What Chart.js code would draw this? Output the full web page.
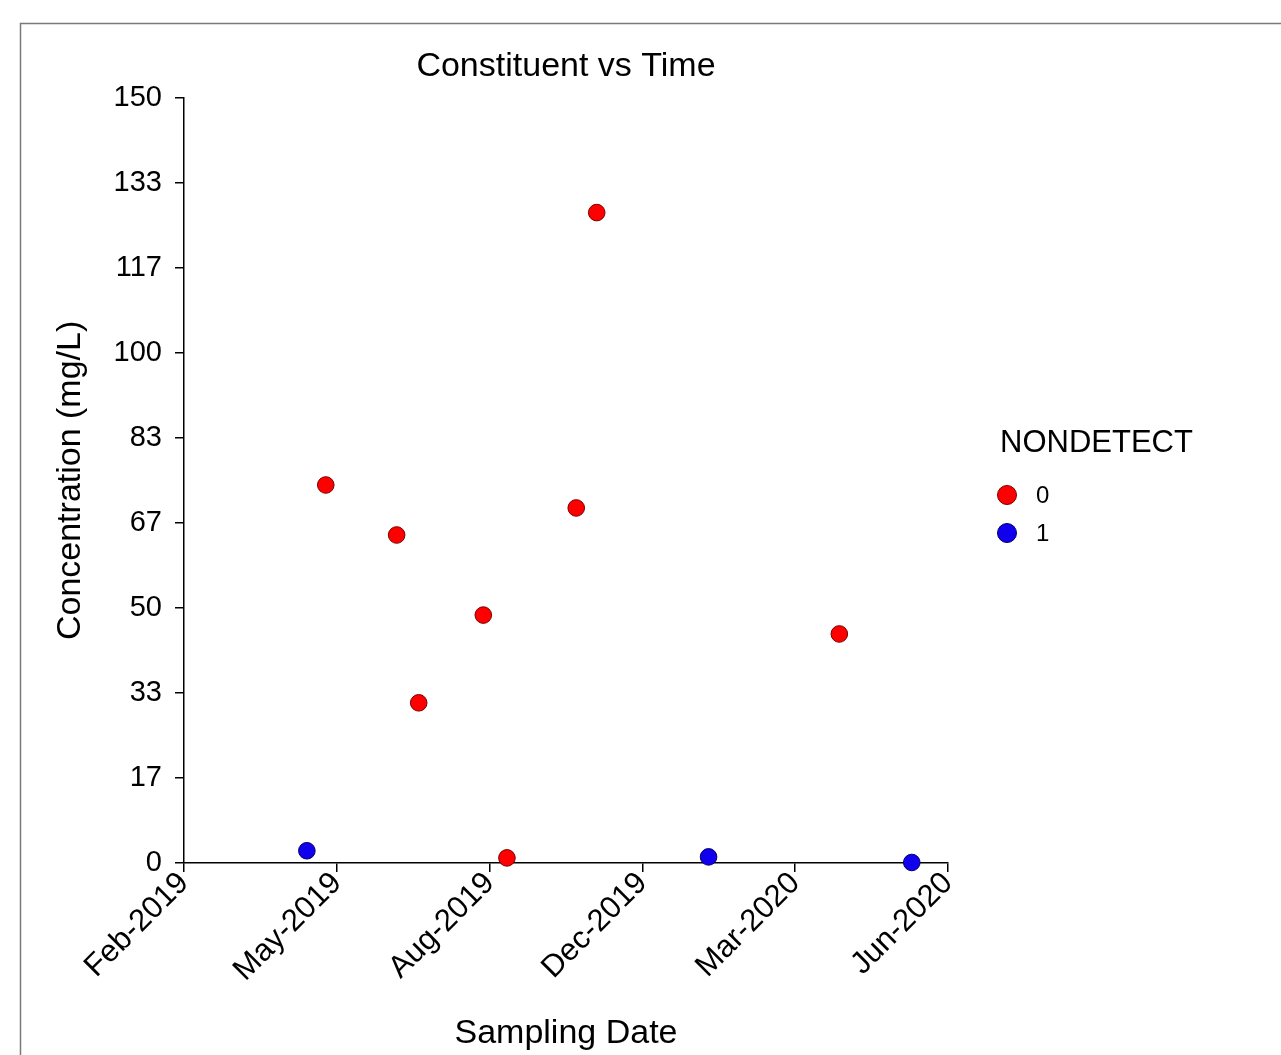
<!DOCTYPE html>
<html>
<head>
<meta charset="utf-8">
<script src="https://cdn.jsdelivr.net/npm/chart.js@4.4.1/dist/chart.umd.min.js"></script>
<style>
  html, body { margin: 0; padding: 0; background: #fff; }
</style>
</head>
<body>
<canvas id="myChart" width="1281" height="1055"></canvas>
<script>
// datos
const dates0 = ['2019-05-16', '2019-06-30', '2019-07-14', '2019-08-24', '2019-09-08', '2019-10-22', '2019-11-04', '2020-04-06'];
const values0 = [74.1, 64.3, 31.4, 48.6, 1.0, 69.6, 127.5, 44.9];
const dates1 = ['2019-05-04', '2020-01-14', '2020-05-22'];
const values1 = [2.4, 1.2, 0.1];

const xTickLabels = ['Feb-2019', 'May-2019', 'Aug-2019', 'Dec-2019', 'Mar-2020', 'Jun-2020'];
const yTickLabels = [0, 17, 33, 50, 67, 83, 100, 117, 133, 150];
const xStart = '2019-02-15';
const xEnd = '2020-06-14';
const yMax = 150;

function toDay(s) {
  const p = s.split('-');
  return Date.UTC(+p[0], +p[1] - 1, +p[2]) / 86400000;
}
const xMin = toDay(xStart);
const xMax = toDay(xEnd);

function points(dates, values) {
  return dates.map((d, i) => ({ x: toDay(d), y: values[i] }));
}

Chart.defaults.font.family = "'Liberation Sans', Arial, sans-serif";
Chart.defaults.color = '#000';

////////////////// marco gris y leyenda //////////////////
const framePlugin = {
  id: 'frame',
  beforeDraw(chart) {
    const ctx = chart.ctx;
    ctx.save();
    ctx.fillStyle = '#fff';
    ctx.fillRect(0, 0, chart.width, chart.height);
    ctx.strokeStyle = '#7a7a7a';
    ctx.lineWidth = 1.5;
    ctx.beginPath();
    ctx.moveTo(20.5, chart.height);
    ctx.lineTo(20.5, 23.5);
    ctx.lineTo(chart.width, 23.5);
    ctx.stroke();
    ctx.restore();
  }
};

const legendPlugin = {
  id: 'sideLegend',
  afterDraw(chart) {
    const ctx = chart.ctx;
    ctx.save();
    ctx.fillStyle = '#000';
    ctx.textBaseline = 'middle';
    ctx.textAlign = 'left';
    ctx.font = "31px 'Liberation Sans', Arial, sans-serif";
    ctx.fillText('NONDETECT', 1000, 443);
    ctx.font = "24px 'Liberation Sans', Arial, sans-serif";
    chart.data.datasets.forEach((ds, i) => {
      const y = 495 + i * 38;
      ctx.beginPath();
      ctx.arc(1007, y, 9.5, 0, Math.PI * 2);
      ctx.fillStyle = ds.backgroundColor;
      ctx.fill();
      ctx.lineWidth = 1;
      ctx.strokeStyle = ds.borderColor;
      ctx.stroke();
      ctx.fillStyle = '#000';
      ctx.fillText(ds.label, 1036, y + 1);
    });
    ctx.restore();
  }
};

const canvas = document.getElementById('myChart').getContext('2d');
const chart = new Chart(canvas, {
  type: 'scatter',
  data: {
    datasets: [{
      label: '0',
      data: points(dates0, values0),
      backgroundColor: '#ff0000',
      borderColor: '#7a0000',
      borderWidth: 1,
      pointRadius: 8.3,
      clip: false
    }, {
      label: '1',
      data: points(dates1, values1),
      backgroundColor: '#1100ee',
      borderColor: '#00006e',
      borderWidth: 1,
      pointRadius: 8.3,
      clip: false
    }]
  },
  options: {
    responsive: false,
    maintainAspectRatio: false,
    animation: false,
    layout: { padding: { top: 0, left: 0, right: 333, bottom: 0 } },
    plugins: {
      legend: { display: false },
      tooltip: { enabled: false },
      title: {
        display: true,
        text: 'Constituent vs Time',
        fullSize: false,
        color: '#000',
        font: { size: 34, weight: 'normal', lineHeight: 1.2 },
        padding: { top: 46, bottom: 11 }
      }
    },
    scales: {
      x: {
        type: 'linear',
        min: xMin,
        max: xMax,
        afterBuildTicks: s => {
          s.ticks = xTickLabels.map((l, i) => ({ value: xMin + i * (xMax - xMin) / (xTickLabels.length - 1) }));
        },
        afterFit: s => { s.height = 192; },
        ticks: {
          callback: (v, i) => xTickLabels[i],
          minRotation: 45,
          maxRotation: 45,
          autoSkip: false,
          color: '#000',
          font: { size: 31 },
          padding: -7
        },
        grid: { drawOnChartArea: false, drawTicks: true, tickLength: 9, color: '#000', lineWidth: 1.5 },
        border: { display: true, color: '#000', width: 1.5 },
        title: {
          display: true,
          text: 'Sampling Date',
          color: '#000',
          font: { size: 34, lineHeight: 1.2 },
          padding: { top: 0, bottom: 1 }
        }
      },
      y: {
        min: 0,
        max: yMax,
        afterBuildTicks: s => {
          s.ticks = yTickLabels.map((l, i) => ({ value: i * yMax / (yTickLabels.length - 1) }));
        },
        afterFit: s => { s.width = 184; },
        ticks: {
          callback: (v, i) => yTickLabels[i],
          color: '#000',
          font: { size: 29 },
          padding: 13
        },
        grid: { drawOnChartArea: false, drawTicks: true, tickLength: 9, color: '#000', lineWidth: 1.5 },
        border: { display: true, color: '#000', width: 1.5 },
        title: {
          display: true,
          text: 'Concentration (mg/L)',
          color: '#000',
          font: { size: 34, lineHeight: 1.2 },
          padding: { top: 50, bottom: 0 }
        }
      }
    }
  },
  plugins: [framePlugin, legendPlugin]
});
</script>
</body>
</html>
